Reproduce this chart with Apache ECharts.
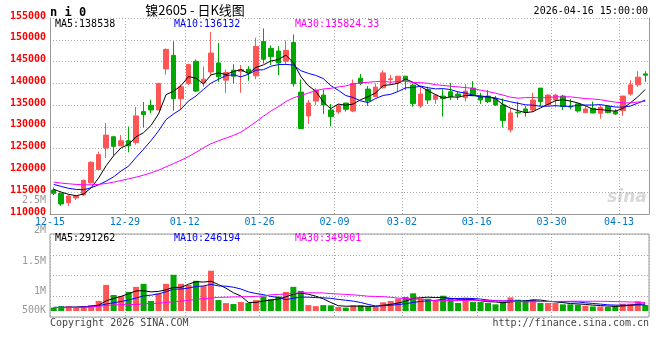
<!DOCTYPE html>
<html><head><meta charset="utf-8">
<script src="https://cdn.jsdelivr.net/npm/echarts@6/dist/echarts.min.js"></script>
<style>html,body{margin:0;padding:0;background:#fff}#c{width:660px;height:360px}</style>
</head><body><div id="c"></div><script>
const dates = ['12-15','12-16','12-17','12-18','12-19','12-22','12-23','12-24','12-25','12-26','12-29','12-30','12-31',
'01-05','01-06','01-07','01-08','01-09','01-12','01-13','01-14','01-15','01-16','01-19','01-20','01-21','01-22','01-23',
'01-26','01-27','01-28','01-29','01-30','02-02','02-03','02-04','02-05','02-06','02-09','02-10','02-11','02-12','02-13',
'02-24','02-25','02-26','02-27','03-02','03-03','03-04','03-05','03-06','03-09','03-10','03-11','03-12','03-13',
'03-16','03-17','03-18','03-19','03-20','03-23','03-24','03-25','03-26','03-27','03-30','03-31','04-01','04-02','04-03',
'04-07','04-08','04-09','04-10','04-13','04-14','04-15','04-16'];
const xTickLabels = ['12-15','12-29','01-12','01-26','02-09','03-02','03-16','03-30','04-13'];
const priceTicks = [155000,150000,145000,140000,135000,130000,125000,120000,115000,110000];

const opens = [115500,114740,112610,113670,114360,117170,120210,125150,127730,125680,126820,126440,133510,134950,133890,143310,146430,136470,139970,145060,
140200,142630,144680,140730,143010,142700,143240,141720,149620,148020,147420,145060,149390,137990,132520,135940,137310,133890,133430,135480,
133660,141180,138680,136930,138980,140880,140120,141640,139590,134800,138600,136320,137080,138070,137540,136700,138900,136850,137080,136550,
135030,129330,133360,134120,133890,138900,135100,136170,137080,134720,135260,133280,134270,133130,134720,133510,133740,137540,139660,142170];
const closes = [114740,112300,114130,114130,117700,121880,123630,128110,125530,126820,125680,132520,132820,133890,139970,147800,136470,139210,144300,138220,
140960,146960,141490,142480,141640,143160,142400,148480,145520,146120,144680,147570,139890,129630,135480,138450,135030,132370,134880,134040,
139970,139970,135940,139130,142400,141030,141640,140730,135330,137540,136170,137310,136550,136930,137080,138220,137160,136170,135790,135030,
131460,133200,133200,133430,136170,135790,137310,137310,134650,134570,133660,134120,133200,134500,133280,132980,137080,139660,141410,141870];
const lows = [114360,111850,111850,113220,114200,117000,120100,122870,123400,125530,124160,125910,129860,133130,133890,142020,133740,133890,139590,137990,
139210,141870,140350,137840,139970,137840,140580,140960,144530,144220,141870,144300,139210,129630,130700,135030,132980,130090,132980,133510,
133360,139590,134800,136930,138830,139660,137990,138500,134650,134340,135260,135260,132370,136170,136170,135790,137080,135260,135480,134800,
129860,128720,132140,132370,133360,134800,134950,134500,133890,134040,133280,133280,133130,131910,133130,132750,132520,137160,139210,140350];
const highs = [116100,114890,114360,114360,117930,122110,124310,130920,127960,128110,130090,134570,135710,136240,140120,148000,149620,139740,144530,145440,
143920,151820,149240,143160,144380,144220,143920,150440,152600,148710,148560,149850,151220,140880,136170,138830,138600,135260,135260,135480,
140880,142170,139360,139970,143010,141940,141640,141640,139970,139210,139210,137540,138600,140120,138220,139820,140500,137840,138450,137080,
136550,134270,135790,134800,137840,138900,137460,137540,137310,136400,135410,134800,135790,135030,135030,134040,137080,140730,142780,142780];

const volumes = [138000,200000,200000,143000,200000,242000,413000,1069000,656000,613000,779000,988000,1112000,413000,717000,1112000,1482000,1112000,1064000,1235000,
1021000,1648000,447000,323000,285000,366000,333000,447000,594000,485000,594000,779000,988000,822000,242000,200000,242000,232000,163000,137000,
232000,232000,191000,163000,355000,409000,505000,573000,724000,519000,503000,435000,625000,503000,326000,517000,367000,367000,326000,272000,
354000,557000,463000,435000,463000,326000,326000,326000,272000,272000,260000,215000,185000,185000,161000,210000,300000,300000,400000,246000];

const priceMa5Lead = [115650,115040,114510,114200];
const priceMa10Lead = [116790,116330,115880,115650,115570,116030,116710,117550,118540];
const priceMa30Lead = [117320,117090,116940,116790,116710,116710,116790,117020,117320,117700,118080,118460,118920,119450,120060,
120820,121580,122340,123170,124160,125220,126140,126820,127430,128040,128800,129940,131150,132440];
const volMa5Lead = [140000,145000,150000,160000];
const volMa10Lead = [150000,150000,155000,155000,160000,180000,215000,285000,340000];
const volMa30Lead = [140000,140000,140000,145000,155000,167000,195000,225000,250000,255000,260000,266000,293000,305000,320000,
350000,377000,405000,433000,475000,503000,530000,558000,565000,573000,580000,587000,600000,615000];

const priceLegend = ['MA5:138538','MA10:136132','MA30:135824.33'];
const volLegend = ['MA5:291262','MA10:246194','MA30:349901'];
const volTickLabels = ['2.5M','2M','1.5M','1M','500K'];
const maColors = ['#000000','#0000ff','#ff00ff'];

function movingAvg(src, n, lead) {
  return src.map((_, i) => {
    if (i < n - 1) return lead[i];
    let s = 0; for (let k = i - n + 1; k <= i; k++) s += src[k];
    return +(s / n).toFixed(2);
  });
}

const UP = '#ff5555', DOWN = '#00a800';
const candleData = dates.map((d, i) => [opens[i], closes[i], lows[i], highs[i]]);
const volData = volumes.map((v, i) => ({ value: v, itemStyle: { color: closes[i] >= opens[i] ? UP : DOWN } }));
const isTick = (idx, val) => xTickLabels.indexOf(val) >= 0;
const MONO = '"DejaVu Sans Mono", monospace';
const dotted = { color: '#aaa', width: 1, type: [1, 2] };

const priceMAs = [movingAvg(closes, 5, priceMa5Lead), movingAvg(closes, 10, priceMa10Lead), movingAvg(closes, 30, priceMa30Lead)];
const volMAs = [movingAvg(volumes, 5, volMa5Lead), movingAvg(volumes, 10, volMa10Lead), movingAvg(volumes, 30, volMa30Lead)];

const volLabelY = [200, 230.5, 261, 291, 310];
const legendX = [55, 174, 295];

const graphics = [
  { type: 'text', x: 50, y: 12.5, style: { text: 'n i 0', font: 'bold 12px ' + MONO, fill: '#000', verticalAlign: 'middle' } },
  { type: 'text', x: 195, y: 10.5, style: { text: '镍2605 - 日K线图', font: '13px "Noto Sans CJK SC"', fill: '#000', align: 'center', verticalAlign: 'middle' } },
  { type: 'text', x: 648, y: 11, style: { text: '2026-04-16 15:00:00', font: '10px ' + MONO, fill: '#000', align: 'right', verticalAlign: 'middle' } },
  { type: 'text', x: 50, y: 323.5, style: { text: 'Copyright 2026 SINA.COM', font: '10px ' + MONO, fill: '#444', verticalAlign: 'middle' } },
  { type: 'text', x: 649, y: 323.5, style: { text: 'http://finance.sina.com.cn', font: '10px ' + MONO, fill: '#444', align: 'right', verticalAlign: 'middle' } },
  { type: 'text', x: 627, y: 198, style: { text: 'sina', font: 'italic bold 17px "DejaVu Sans"', fill: '#d8d8d8', align: 'center', verticalAlign: 'middle' } }
];
priceLegend.forEach((t, k) => graphics.push({ type: 'text', x: legendX[k], y: 24, z: 100, style: { text: t, font: '10px ' + MONO, fill: maColors[k], verticalAlign: 'middle' } }));
volLegend.forEach((t, k) => graphics.push({ type: 'text', x: legendX[k], y: 238.5, z: 100, style: { text: t, font: '10px ' + MONO, fill: maColors[k], verticalAlign: 'middle' } }));
volTickLabels.forEach((t, k) => graphics.push({ type: 'text', x: 46, y: volLabelY[k], style: { text: t, font: '10px ' + MONO, fill: '#999', align: 'right', verticalAlign: 'middle' } }));

const chart = echarts.init(document.getElementById('c'), null, { renderer: 'canvas' });
chart.setOption({
  animation: false,
  backgroundColor: '#fff',
  grid: [
    { left: 50, top: 18, width: 599, height: 196, outerBoundsMode: 'none' },
    { left: 50, top: 234, width: 599, height: 77, outerBoundsMode: 'none' },
    { left: 50, top: 234, width: 599, height: 83, show: true, borderColor: '#999', borderWidth: 1, outerBoundsMode: 'none' }
  ],
  xAxis: [
    { type: 'category', gridIndex: 0, data: dates, boundaryGap: true,
      axisLine: { show: true, lineStyle: { color: '#999' } }, axisTick: { show: false },
      axisLabel: { show: false },
      splitLine: { show: true, interval: isTick, lineStyle: dotted } },
    { type: 'category', gridIndex: 1, data: dates, boundaryGap: true,
      axisLine: { show: false }, axisTick: { show: false }, axisLabel: { show: false }, splitLine: { show: false } },
    { type: 'category', gridIndex: 2, data: dates, boundaryGap: true,
      axisLine: { show: false }, axisTick: { show: false }, axisLabel: { show: false },
      splitLine: { show: true, interval: isTick, lineStyle: dotted } }
  ],
  yAxis: [
    { type: 'value', gridIndex: 0, min: 110000, max: 155000, interval: 5000, position: 'left',
      axisLine: { show: true, lineStyle: { color: '#999' } }, axisTick: { show: false },
      axisLabel: { show: false },
      splitLine: { show: true, lineStyle: dotted } },
    { type: 'value', gridIndex: 0, min: 110000, max: 155000, interval: 5000, position: 'right',
      axisLine: { show: true, lineStyle: { color: '#999' } }, axisTick: { show: false }, axisLabel: { show: false }, splitLine: { show: false } },
    { type: 'value', gridIndex: 1, min: 0, max: 3150000, show: false, splitLine: { show: false } },
    { type: 'value', gridIndex: 2, min: 0, max: 4, interval: 1,
      axisLine: { show: false }, axisTick: { show: false }, axisLabel: { show: false },
      splitLine: { show: true, lineStyle: dotted } }
  ],
  series: [
    { type: 'candlestick', xAxisIndex: 0, yAxisIndex: 0, data: candleData, barWidth: 5,
      itemStyle: { color: UP, color0: DOWN, borderColor: UP, borderColor0: DOWN, borderWidth: 1 } },
    ...priceMAs.map((d, k) => ({ type: 'line', xAxisIndex: 0, yAxisIndex: 0, data: d, showSymbol: false, symbol: 'none',
      lineStyle: { color: maColors[k], width: 1 }, z: 5 })),
    { type: 'bar', xAxisIndex: 1, yAxisIndex: 2, data: volData, barWidth: 6 },
    ...volMAs.map((d, k) => ({ type: 'line', xAxisIndex: 1, yAxisIndex: 2, data: d, showSymbol: false, symbol: 'none',
      lineStyle: { color: maColors[k], width: 1 }, z: 5 }))
  ],
  graphic: graphics
});

// tick labels placed through the axes' own scales
const half = (chart.convertToPixel({ xAxisIndex: 0 }, 1) - chart.convertToPixel({ xAxisIndex: 0 }, 0)) / 2;
const axisY = chart.convertToPixel({ yAxisIndex: 0 }, 110000);
const dateLabels = xTickLabels.map(t => ({
  type: 'text', z: 300, x: chart.convertToPixel({ xAxisIndex: 0 }, dates.indexOf(t)) - half, y: axisY + 8,
  style: { text: t, font: '10px ' + MONO, fill: '#0078c8', align: 'center', verticalAlign: 'middle' }
}));
const priceLabels = priceTicks.map(v => ({
  type: 'text', z: 300, x: 46, y: chart.convertToPixel({ yAxisIndex: 0 }, v) - 2,
  style: { text: String(v), font: 'bold 10px ' + MONO, fill: '#ff0000', align: 'right', verticalAlign: 'middle' }
}));
chart.setOption({ graphic: graphics.concat(dateLabels, priceLabels) });
</script></body></html>
